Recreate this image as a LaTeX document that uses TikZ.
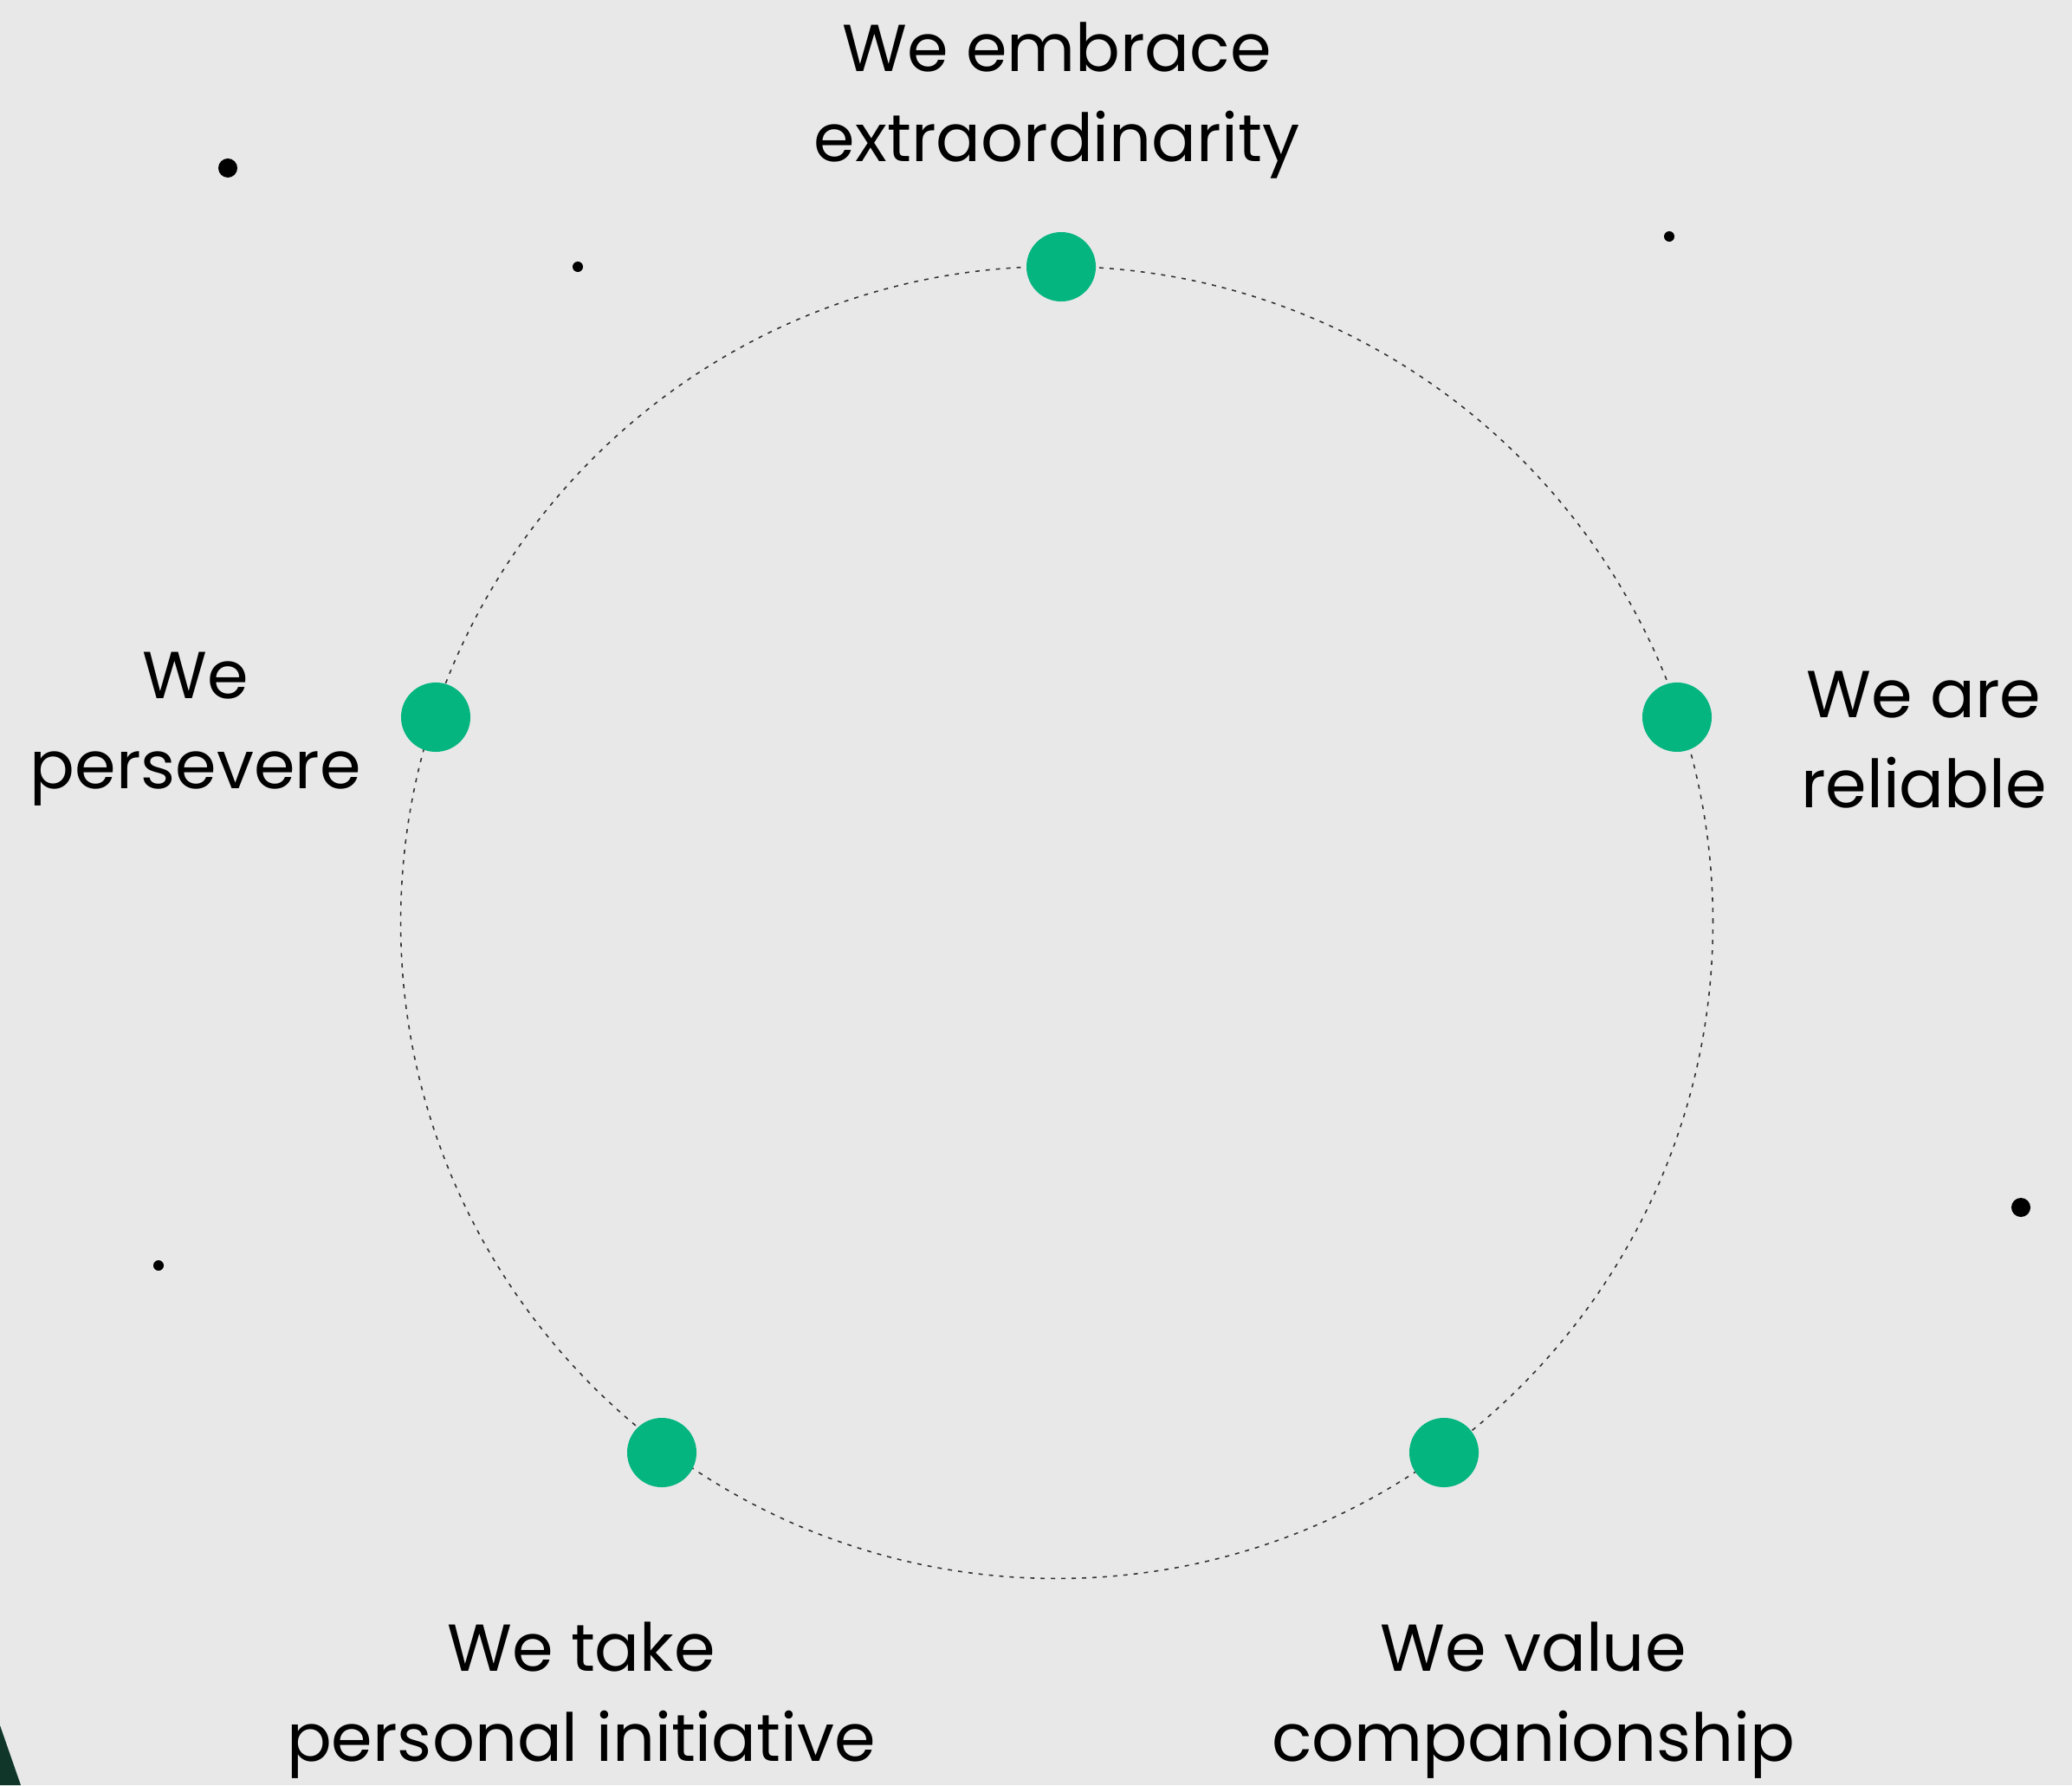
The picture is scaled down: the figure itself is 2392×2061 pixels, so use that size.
\documentclass[tikz,border=0pt]{standalone}
\usepackage{fontspec}
\setmainfont{Poppins}
\definecolor{bgcol}{HTML}{E8E8E8}
\definecolor{valuegreen}{HTML}{04B580}
\definecolor{darkpine}{HTML}{10362A}
\begin{document}
\begin{tikzpicture}[
  x=0.01cm, y=-0.01cm,
  valuedot/.style={circle, fill=valuegreen, minimum size=0.8cm, inner sep=0pt},
  bigspeck/.style={circle, fill=black, minimum size=0.22cm, inner sep=0pt},
  smallspeck/.style={circle, fill=black, minimum size=0.12cm, inner sep=0pt},
  valuelabel/.style={align=center, inner sep=0pt, font=\fontsize{21.8}{29.6}\selectfont},
  ring/.style={draw=black!80, line width=0.45pt, dash pattern=on 1.4pt off 2pt}
]

% Background
\fill[bgcol] (0,0) rectangle (2392,2061);
\useasboundingbox (0,0) rectangle (2392,2061);
\fill[darkpine] (0,1992) -- (24,2061) -- (0,2061) -- cycle;

% Ring of values
\coordinate (ringc) at (1220,1065);
\draw[ring] (ringc) circle[radius=7.57cm];

\node[valuedot] (v_top) at (1225,308) {};
\node[valuedot] (v_left) at (503,828) {};
\node[valuedot] (v_right) at (1936,828) {};
\node[valuedot] (v_botl) at (764,1677) {};
\node[valuedot] (v_botr) at (1667,1677) {};

% Labels
\node[valuelabel] (l_top) at (1220,116) {We embrace\\extraordinarity};
\node[valuelabel] (l_left) at (226,842) {We\\persevere};
\node[valuelabel] (l_right) at (2221,854) {We are\\reliable};
\node[valuelabel] (l_botl) at (671,1963) {We take\\personal initiative};
\node[valuelabel] (l_botr) at (1770,1963) {We value\\companionship};

% Specks
\node[bigspeck] (s1) at (263,194) {};
\node[smallspeck] (s2) at (667,308) {};
\node[smallspeck] (s3) at (1927,273) {};
\node[bigspeck] (s4) at (2333,1394) {};
\node[smallspeck] (s5) at (183,1461) {};

\end{tikzpicture}
\end{document}
